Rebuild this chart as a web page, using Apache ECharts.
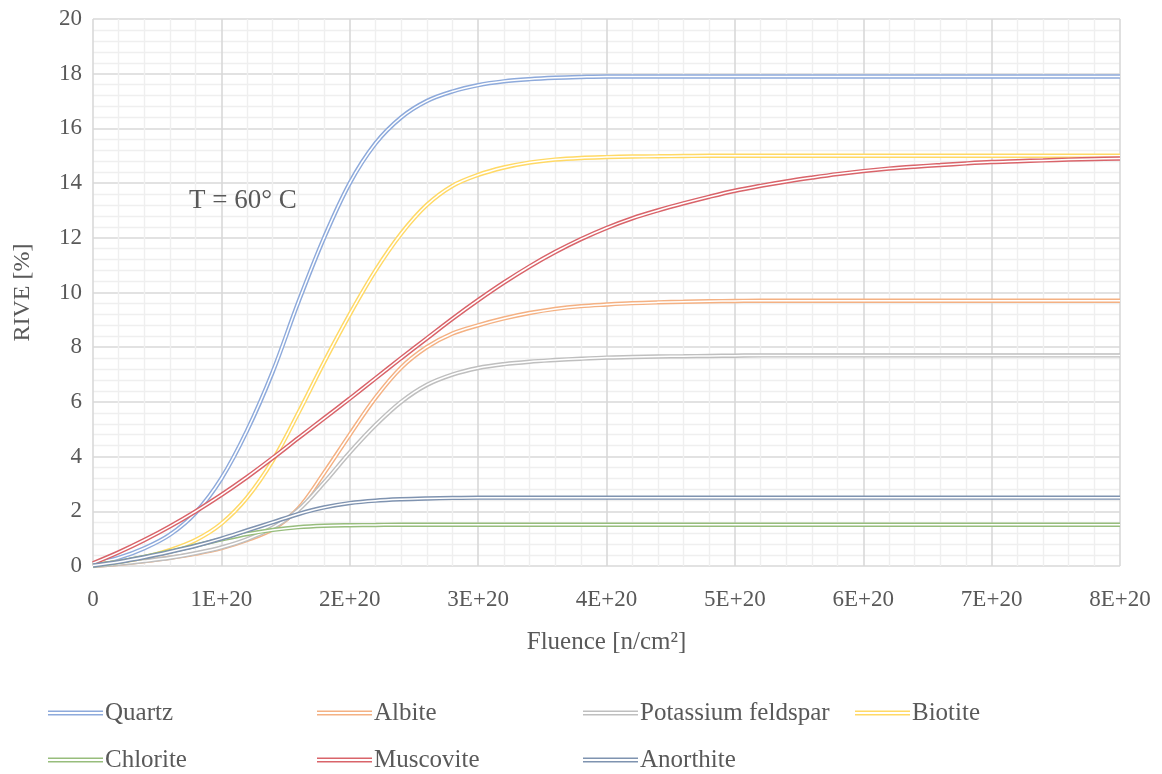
<!DOCTYPE html>
<html>
<head>
<meta charset="utf-8">
<script src="https://cdn.jsdelivr.net/npm/echarts@6/dist/echarts.min.js"></script>
<style>
  html, body { margin: 0; padding: 0; background: #ffffff; }
  #chart { width: 1162px; height: 774px; }
</style>
</head>
<body>
<div id="chart"></div>
<script>
// Fluence in units of 1E+20 n/cm², one sample every 2E+19
const fluenceE20 = [0, 0.2, 0.4, 0.6, 0.8, 1.0, 1.2, 1.4, 1.6, 1.8, 2.0, 2.2, 2.4, 2.6, 2.8, 3.0, 3.2, 3.4, 3.6, 3.8,
  4.0, 4.2, 4.4, 4.6, 4.8, 5.0, 5.2, 5.4, 5.6, 5.8, 6.0, 6.2, 6.4, 6.6, 6.8, 7.0, 7.2, 7.4, 7.6, 7.8, 8.0];

// RIVE [%] for each mineral at T = 60 °C
const quartz = [0.08, 0.3, 0.65, 1.15, 1.95, 3.2, 4.95, 7.1, 9.65, 12.0, 14.0, 15.45, 16.4, 17.0, 17.35, 17.58, 17.72, 17.8, 17.85, 17.88,
  17.9, 17.9, 17.9, 17.9, 17.9, 17.9, 17.9, 17.9, 17.9, 17.9, 17.9, 17.9, 17.9, 17.9, 17.9, 17.9, 17.9, 17.9, 17.9, 17.9, 17.9];
const albite = [0.0, 0.08, 0.18, 0.3, 0.45, 0.65, 0.95, 1.35, 2.1, 3.4, 4.8, 6.15, 7.25, 8.0, 8.5, 8.8, 9.05, 9.25, 9.4, 9.5,
  9.56, 9.61, 9.64, 9.66, 9.68, 9.69, 9.7, 9.7, 9.7, 9.7, 9.7, 9.7, 9.7, 9.7, 9.7, 9.7, 9.7, 9.7, 9.7, 9.7, 9.7];
const potassiumFeldspar = [0.0, 0.08, 0.18, 0.3, 0.47, 0.68, 0.98, 1.4, 2.05, 3.05, 4.15, 5.15, 6.0, 6.62, 7.0, 7.24, 7.38, 7.47, 7.53, 7.58,
  7.62, 7.64, 7.66, 7.67, 7.68, 7.69, 7.7, 7.7, 7.7, 7.7, 7.7, 7.7, 7.7, 7.7, 7.7, 7.7, 7.7, 7.7, 7.7, 7.7, 7.7];
const biotite = [0.05, 0.15, 0.32, 0.58, 0.95, 1.55, 2.5, 3.85, 5.6, 7.45, 9.2, 10.8, 12.15, 13.2, 13.9, 14.3, 14.57, 14.75, 14.86, 14.92,
  14.95, 14.97, 14.98, 14.99, 15.0, 15.0, 15.0, 15.0, 15.0, 15.0, 15.0, 15.0, 15.0, 15.0, 15.0, 15.0, 15.0, 15.0, 15.0, 15.0, 15.0];
const chlorite = [0.02, 0.15, 0.33, 0.53, 0.75, 0.97, 1.17, 1.32, 1.42, 1.47, 1.49, 1.5, 1.51, 1.51, 1.51, 1.51, 1.51, 1.51, 1.51, 1.51,
  1.51, 1.51, 1.51, 1.51, 1.51, 1.51, 1.51, 1.51, 1.51, 1.51, 1.51, 1.51, 1.51, 1.51, 1.51, 1.51, 1.51, 1.51, 1.51, 1.51, 1.51];
const muscovite = [0.1, 0.5, 0.95, 1.45, 2.0, 2.6, 3.25, 3.95, 4.68, 5.4, 6.12, 6.86, 7.6, 8.32, 9.04, 9.72, 10.36, 10.95, 11.48, 11.95,
  12.36, 12.71, 13.0, 13.26, 13.5, 13.72, 13.9, 14.06, 14.2, 14.33, 14.44, 14.53, 14.6, 14.66, 14.72, 14.77, 14.8, 14.83, 14.86, 14.88, 14.9];
const anorthite = [0.02, 0.15, 0.32, 0.52, 0.74, 1.0, 1.3, 1.6, 1.9, 2.14, 2.3, 2.39, 2.44, 2.47, 2.49, 2.5, 2.5, 2.5, 2.5, 2.5,
  2.5, 2.5, 2.5, 2.5, 2.5, 2.5, 2.5, 2.5, 2.5, 2.5, 2.5, 2.5, 2.5, 2.5, 2.5, 2.5, 2.5, 2.5, 2.5, 2.5, 2.5];

const xTickValues = [0, 1, 2, 3, 4, 5, 6, 7, 8];
const yTickValues = [0, 2, 4, 6, 8, 10, 12, 14, 16, 18, 20];

const minerals = [
  { name: 'Quartz', values: quartz, color: '#8eaadb' },
  { name: 'Albite', values: albite, color: '#f4b183' },
  { name: 'Potassium feldspar', values: potassiumFeldspar, color: '#bfbfbf' },
  { name: 'Biotite', values: biotite, color: '#ffd966' },
  { name: 'Chlorite', values: chlorite, color: '#97bd7c' },
  { name: 'Muscovite', values: muscovite, color: '#d9646a' },
  { name: 'Anorthite', values: anorthite, color: '#7f93b0' }
];

const FONT = '"Liberation Serif", "DejaVu Serif", serif';
const TEXT = '#595959';

// Each curve is a double stroke: a wide coloured line with a thin white core
const series = [];
minerals.forEach(function (m) {
  const pts = fluenceE20.map(function (f, i) { return [f, m.values[i]]; });
  series.push({
    name: m.name, type: 'line', data: pts, smooth: 0.35,
    showSymbol: false, symbol: 'none', color: m.color,
    lineStyle: { color: m.color, width: 4.4 }, emphasis: { disabled: true }, silent: true
  });
  series.push({
    name: m.name + ' core', type: 'line', data: pts, smooth: 0.35,
    showSymbol: false, symbol: 'none',
    lineStyle: { color: '#ffffff', width: 1.5 }, emphasis: { disabled: true }, silent: true
  });
});

// Legend: equal-width columns, two rows
const legendSlots = [
  { name: 'Quartz', left: 48, top: 713 },
  { name: 'Albite', left: 317, top: 713 },
  { name: 'Potassium feldspar', left: 583, top: 713 },
  { name: 'Biotite', left: 855, top: 713 },
  { name: 'Chlorite', left: 48, top: 760 },
  { name: 'Muscovite', left: 317, top: 760 },
  { name: 'Anorthite', left: 583, top: 760 }
];
const doubleBar = 'path://M0,0L55,0L55,1.4L0,1.4Z M0,3.6L55,3.6L55,5L0,5Z';
const legends = legendSlots.map(function (s) {
  return {
    data: [{ name: s.name, icon: doubleBar }],
    left: s.left, top: s.top - 13, padding: 0,
    itemWidth: 55, itemHeight: 5, itemGap: 0,
    selectedMode: false,
    textStyle: { fontFamily: FONT, fontSize: 25, color: TEXT, lineHeight: 26, padding: [0, 0, 0, -3] }
  };
});

const chart = echarts.init(document.getElementById('chart'), null, { renderer: 'canvas' });
chart.setOption({
  animation: false,
  backgroundColor: '#ffffff',
  grid: { left: 93, right: 42, top: 19, bottom: 208, containLabel: false, outerBoundsMode: 'none' },
  xAxis: {
    type: 'value', min: xTickValues[0], max: xTickValues[xTickValues.length - 1], interval: 1,
    name: 'Fluence [n/cm²]', nameLocation: 'middle', nameGap: 64,
    nameTextStyle: { fontFamily: FONT, fontSize: 25, color: TEXT },
    axisLine: { show: false }, axisTick: { show: false },
    axisLabel: {
      margin: 22, fontFamily: FONT, fontSize: 23, color: TEXT,
      formatter: function (v) { return v === 0 ? '0' : v + 'E+20'; }
    },
    splitLine: { show: true, lineStyle: { color: '#d9d9d9', width: 1.6 } },
    minorTick: { show: false, splitNumber: 5 },
    minorSplitLine: { show: true, lineStyle: { color: '#efefef', width: 1.4 } }
  },
  yAxis: {
    type: 'value', min: yTickValues[0], max: yTickValues[yTickValues.length - 1], interval: 2,
    name: 'RIVE [%]', nameLocation: 'middle', nameGap: 58, nameRotate: 90,
    nameTextStyle: { fontFamily: FONT, fontSize: 24, color: TEXT },
    axisLine: { show: false }, axisTick: { show: false },
    axisLabel: { margin: 11, fontFamily: FONT, fontSize: 23, color: TEXT },
    splitLine: { show: true, lineStyle: { color: '#d9d9d9', width: 1.6 } },
    minorTick: { show: false, splitNumber: 5 },
    minorSplitLine: { show: true, lineStyle: { color: '#efefef', width: 1.4 } }
  },
  legend: legends,
  graphic: [{
    type: 'text', left: 189, top: 187, z: 100,
    style: { text: 'T = 60° C', fontFamily: FONT, fontSize: 27, fill: TEXT }
  }],
  series: series
});
</script>
</body>
</html>
